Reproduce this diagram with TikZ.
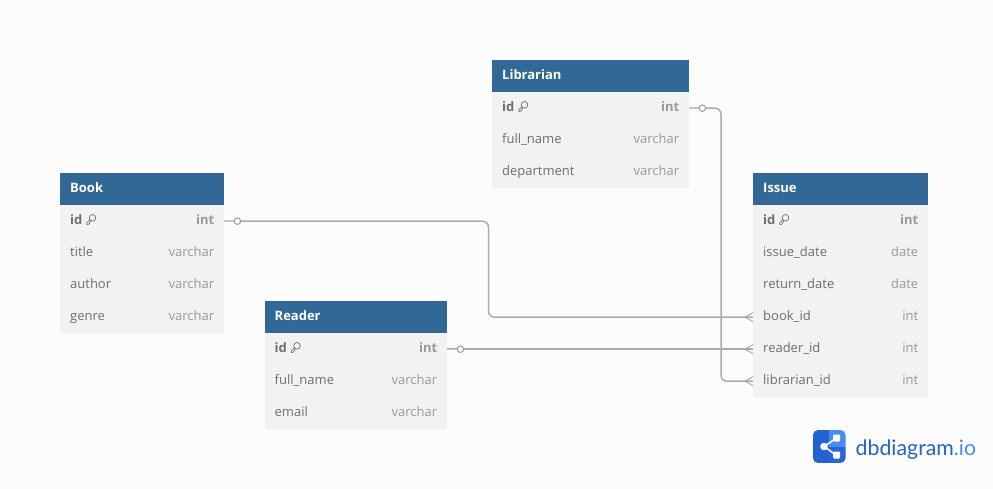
\documentclass[tikz,border=0pt]{standalone}
\usepackage{fontspec}
\setmainfont{Open Sans}
\newfontfamily\logofont{Lato}
\usetikzlibrary{calc}
\definecolor{headblue}{HTML}{316896}
\definecolor{rowgrey}{HTML}{F2F2F2}
\definecolor{pagegrey}{HTML}{FCFCFC}
\definecolor{nametext}{HTML}{6E6E6E}
\definecolor{typetext}{HTML}{9A9A9A}
\definecolor{linkgrey}{HTML}{ABABB2}
\definecolor{logodark}{HTML}{2362D0}
\definecolor{logolight}{HTML}{4A8CF2}
\definecolor{logotext}{HTML}{2463C8}
\tikzset{
  x=1pt,y=-1pt,
  headbar/.style={fill=headblue,inner sep=0pt,minimum height=32pt,anchor=north west},
  headtitle/.style={inner sep=0pt,anchor=base west,text=white,font=\fontsize{13}{13}\selectfont\bfseries},
  rowbox/.style={fill=rowgrey,inner sep=0pt,minimum height=32pt,anchor=north west},
  rowname/.style={inner sep=0pt,anchor=base west,text=nametext,font=\fontsize{13}{13}\selectfont},
  pkname/.style={rowname,font=\fontsize{13}{13}\selectfont\bfseries},
  rowtype/.style={inner sep=0pt,anchor=base east,text=typetext,font=\fontsize{13}{13}\selectfont},
  pktype/.style={rowtype,font=\fontsize{13}{13}\selectfont\bfseries},
  link/.style={draw=linkgrey,line width=1.5pt},
  stub/.style={draw=linkgrey!75,line width=1.2pt},
  crow/.style={draw=linkgrey,line width=1pt},
  dot/.style={circle,draw=linkgrey!90!black,fill=pagegrey,line width=1pt,inner sep=0pt,minimum size=6.5pt},
}
% #1 node name, #2 x, #3 y, #4 width, #5 title
\newcommand{\headbox}[5]{%
  \node[headbar,minimum width=#4pt] (#1) at (#2,#3) {};
  \node[headtitle] (#1title) at ($(#1.north west)+(10,19.8)$) {#5};}
% #1 node name, #2 x, #3 y, #4 width, #5 column, #6 type
\newcommand{\datarow}[6]{%
  \node[rowbox,minimum width=#4pt] (#1) at (#2,#3) {};
  \node[rowname] (#1n) at ($(#1.north west)+(10,19.3)$) {#5};
  \node[rowtype] (#1t) at ($(#1.north east)+(-10,19.3)$) {#6};}
% #1 node name, #2 x, #3 y, #4 width
\newcommand{\pkrow}[4]{%
  \node[rowbox,minimum width=#4pt] (#1) at (#2,#3) {};
  \node[pkname] (#1n) at ($(#1.north west)+(10,19.3)$) {id};
  \node[pktype] (#1t) at ($(#1.north east)+(-10,19.3)$) {int};
  \begin{scope}[shift={($(#1.north west)+(31.5,14.2)$)},draw=nametext,line width=0.7pt]
    \draw (1,-1.4) circle[radius=3.3];
    \draw[rounded corners=0.6pt] (-1.6,0.4) -- (-5,4) -- (-4.6,5.4) -- (-2.8,5.2) -- (-0.6,1.6);
  \end{scope}}
\newcommand{\crowfoot}[1]{%
  \draw[crow] ($(#1.west)+(0,-4.5)$) -- ($(#1.west)+(-8,0)$) -- ($(#1.west)+(0,4.5)$);}
\begin{document}
\begin{tikzpicture}
\fill[pagegrey] (0,0) rectangle (993,489);
\useasboundingbox (0,0) rectangle (993,489);

% Book
\headbox{book}{60}{173}{164}{Book}
\pkrow{bookid}{60}{205}{164}
\datarow{booktitle}{60}{237}{164}{title}{varchar}
\datarow{bookauthor}{60}{269}{164}{author}{varchar}
\datarow{bookgenre}{60}{301}{164}{genre}{varchar}

% Reader
\headbox{reader}{264.5}{301}{182.5}{Reader}
\pkrow{readerid}{264.5}{333}{182.5}
\datarow{readername}{264.5}{365}{182.5}{full\_name}{varchar}
\datarow{readeremail}{264.5}{397}{182.5}{email}{varchar}

% Librarian
\headbox{lib}{492}{60}{197}{Librarian}
\pkrow{libid}{492}{92}{197}
\datarow{libname}{492}{124}{197}{full\_name}{varchar}
\datarow{libdept}{492}{156}{197}{department}{varchar}

% Issue
\headbox{issue}{753}{173}{175}{Issue}
\pkrow{issueid}{753}{205}{175}
\datarow{issuedate}{753}{237}{175}{issue\_date}{date}
\datarow{issueret}{753}{269}{175}{return\_date}{date}
\datarow{issuebook}{753}{301}{175}{book\_id}{int}
\datarow{issuereader}{753}{333}{175}{reader\_id}{int}
\datarow{issuelib}{753}{365}{175}{librarian\_id}{int}

% Connectors
\coordinate (bendbook) at (488.5,269);
\coordinate (bendlib) at (721,245);
\draw[link,rounded corners=6pt] (bookid.east) -| (bendbook) |- (issuebook.west);
\draw[link] (readerid.east) -- (issuereader.west);
\draw[link,rounded corners=6pt] (libid.east) -| (bendlib) |- (issuelib.west);
\draw[stub] (bookid.east) -- ++(13,0);
\draw[stub] (readerid.east) -- ++(13,0);
\draw[stub] (libid.east) -- ++(13,0);
\node[dot] (dotbook) at ($(bookid.east)+(13,0)$) {};
\node[dot] (dotreader) at ($(readerid.east)+(13,0)$) {};
\node[dot] (dotlib) at ($(libid.east)+(13,0)$) {};
\crowfoot{issuebook}
\crowfoot{issuereader}
\crowfoot{issuelib}

% Logo
\begin{scope}
  \clip[rounded corners=5pt] (813,430) rectangle (845.5,463);
  \fill[logodark] (813,430) rectangle (829,463);
  \fill[logolight] (829,430) rectangle (845.5,446.5);
  \fill[logodark!90!logolight] (829,446.5) rectangle (845.5,463);
\end{scope}
\draw[white,line width=1.6pt] (836,438.5) -- (824,446.5) -- (836,455);
\fill[white,rounded corners=1pt] (833,434.5) rectangle (840,441.5);
\fill[white,rounded corners=1pt] (833,451.5) rectangle (840,458.5);
\fill[white] (824,446.5) circle[radius=3.8];
\node[inner sep=0pt,anchor=base west,font=\logofont\fontsize{21.3}{21.3}\selectfont,text=logotext] (logo) at (855.5,455) {dbdiagram\textcolor{logolight}{.io}};
\end{tikzpicture}
\end{document}
